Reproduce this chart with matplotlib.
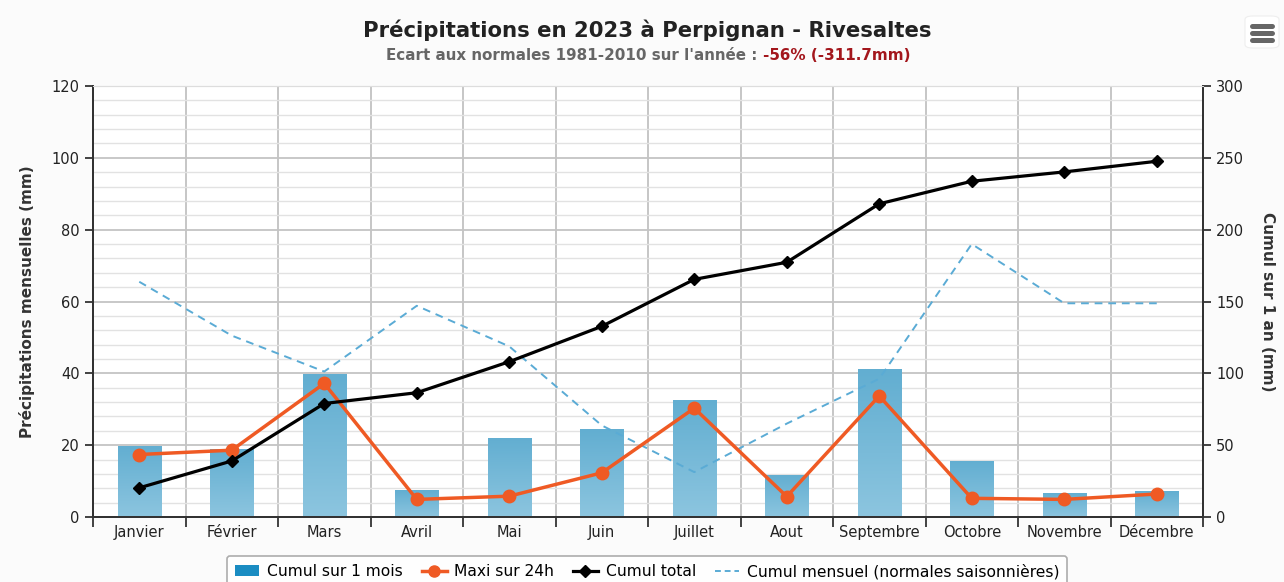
import matplotlib
matplotlib.use("Agg")
import matplotlib.pyplot as plt
import numpy as np
from matplotlib.lines import Line2D
from matplotlib.patches import Patch, FancyBboxPatch

plt.rcParams['font.family'] = ['DejaVu Sans']

months = ["Janvier", "Février", "Mars", "Avril", "Mai", "Juin", "Juillet",
          "Aout", "Septembre", "Octobre", "Novembre", "Décembre"]
cumul_mois = [19.8, 19.0, 39.8, 7.5, 22.0, 24.5, 32.6, 11.7, 41.1, 15.6, 6.7, 7.2]
maxi_24h = [17.4, 18.6, 37.2, 4.9, 5.8, 12.3, 30.3, 5.7, 33.7, 5.2, 4.9, 6.4]
cumul_total = [20.3, 39.0, 79.0, 86.5, 108.1, 132.7, 165.4, 177.3, 218.0, 233.7, 240.2, 247.6]
normales = [65.5, 50.5, 40.5, 58.8, 47.5, 25.5, 12.5, 26.0, 38.5, 76.0, 59.5, 59.5]

col_bar = "#76b7d7"
col_orange = "#ef5a24"
col_dash = "#5aabd5"

fig = plt.figure(figsize=(12.84, 5.82), dpi=100, facecolor="#fbfbfb")
ax = fig.add_axes([93/1284, 1-517/582, (1203-93)/1284, (517-86)/582])
ax.set_facecolor("white")
ax2 = ax.twinx()

x = np.arange(len(months))

# grid
ax.set_ylim(0, 120)
ax.set_xlim(-0.5, 11.5)
ax.set_yticks(np.arange(0, 121, 20))
ax.set_yticks(np.arange(0, 121, 4), minor=True)
ax.grid(axis="y", which="major", color="#c4c4c4", lw=1.3, zorder=0)
ax.grid(axis="y", which="minor", color="#e2e2e2", lw=1.0, zorder=0)
for b in np.arange(0.5, 11, 1):
    ax.axvline(b, color="#c6c6c6", lw=1.4, zorder=0)

bars = ax.bar(x, cumul_mois, width=0.47, color=col_bar, zorder=2)
# degrade vertical sur chaque barre
grad = np.linspace(0, 1, 100).reshape(-1, 1)
cmap = matplotlib.colors.LinearSegmentedColormap.from_list("g", ["#8cc5df", "#62aed1"])
for r in bars:
    x0, w, h = r.get_x(), r.get_width(), r.get_height()
    im = ax.imshow(grad, extent=(x0, x0 + w, 0, h), aspect="auto", origin="lower",
                   cmap=cmap, zorder=2)
    im.set_clip_path(r)

ax.plot(x, normales, color=col_dash, lw=1.4, ls=(0, (4, 3)), zorder=3)
ax.plot(x, maxi_24h, color=col_orange, lw=2.5, marker="o", ms=9, zorder=5)

ax2.set_ylim(0, 300)
ax2.set_yticks(np.arange(0, 301, 50))
ax2.plot(x, cumul_total, color="black", lw=2.3, marker="D", ms=6.5, zorder=6)

ax.set_xticks(x)
ax.set_xticklabels(months, fontsize=10.5, color="#222222")
ax.set_xticks(np.arange(-0.5, 12, 1), minor=True)
ax.tick_params(axis="x", which="major", length=0, pad=6)
ax.tick_params(axis="x", which="minor", length=7, width=1.3, color="#333333")
ax.tick_params(axis="y", which="major", length=6, width=1.3, labelsize=10.5,
               labelcolor="#222222", color="#333333")
ax.tick_params(axis="y", which="minor", length=0)
ax2.tick_params(axis="y", length=6, width=1.3, labelsize=10.5, labelcolor="#222222",
                color="#333333")

for a in (ax, ax2):
    a.spines["top"].set_color("#dddddd")
    a.spines["left"].set_color("#333333")
    a.spines["right"].set_color("#333333")
    a.spines["bottom"].set_color("#333333")
    for s in ("left", "right", "bottom"):
        a.spines[s].set_linewidth(1.4)

ax.set_ylabel("Précipitations mensuelles (mm)", fontsize=11, fontweight="bold",
              color="#333333", labelpad=12)
ax2.set_ylabel("Cumul sur 1 an (mm)", fontsize=11, fontweight="bold",
               color="#333333", rotation=270, labelpad=22)

fig.text(0.504, 1-30/582, "Précipitations en 2023 à Perpignan - Rivesaltes",
         ha="center", va="center", fontsize=15.3, fontweight="bold", color="#222222")
t1 = fig.text(0.504, 1-55/582, "Ecart aux normales 1981-2010 sur l'année : ",
              ha="right", va="center", fontsize=10.9, fontweight="bold", color="#666666")
fig.canvas.draw()
bb = t1.get_window_extent()
t2 = fig.text(bb.x1/1284, 1-55/582, "-56% (-311.7mm)", ha="left", va="center",
              fontsize=10.9, fontweight="bold", color="#a3161c")
fig.canvas.draw()
w = t2.get_window_extent().x1 - bb.x0
shift = (648 - (bb.x0 + w/2)) / 1284
t1.set_x(t1.get_position()[0] + shift)
t2.set_x(t2.get_position()[0] + shift)

# bouton menu
fig.add_artist(FancyBboxPatch((1245/1284, 1-48/582), 34/1284, 32/582,
                              boxstyle="round,pad=0,rounding_size=0.006",
                              facecolor="white", edgecolor="#eeeeee", lw=0.8))
for yy in (26, 33, 40):
    fig.add_artist(Line2D([1252/1284, 1272/1284], [1-yy/582, 1-yy/582],
                          color="#666666", lw=3.6, solid_capstyle="round"))

handles = [
    Patch(facecolor="#1a8cc2", edgecolor="none"),
    Line2D([], [], color=col_orange, lw=2.5, marker="o", ms=8),
    Line2D([], [], color="black", lw=2.3, marker="D", ms=6),
    Line2D([], [], color=col_dash, lw=1.4, ls=(0, (3, 2))),
]
labels = ["Cumul sur 1 mois", "Maxi sur 24h", "Cumul total",
          "Cumul mensuel (normales saisonnières)"]
leg = fig.legend(handles, labels, loc="upper center", bbox_to_anchor=(0.504, 1-548/582),
                 ncol=4, frameon=True, fontsize=11.2, handlelength=1.6, handletextpad=0.5,
                 columnspacing=1.2, borderpad=0.5, fancybox=True)
leg.get_frame().set_edgecolor("#999999")
leg.get_frame().set_facecolor("white")
leg.get_frame().set_linewidth(1.2)

fig.savefig("out.png", dpi=100, facecolor=fig.get_facecolor())
